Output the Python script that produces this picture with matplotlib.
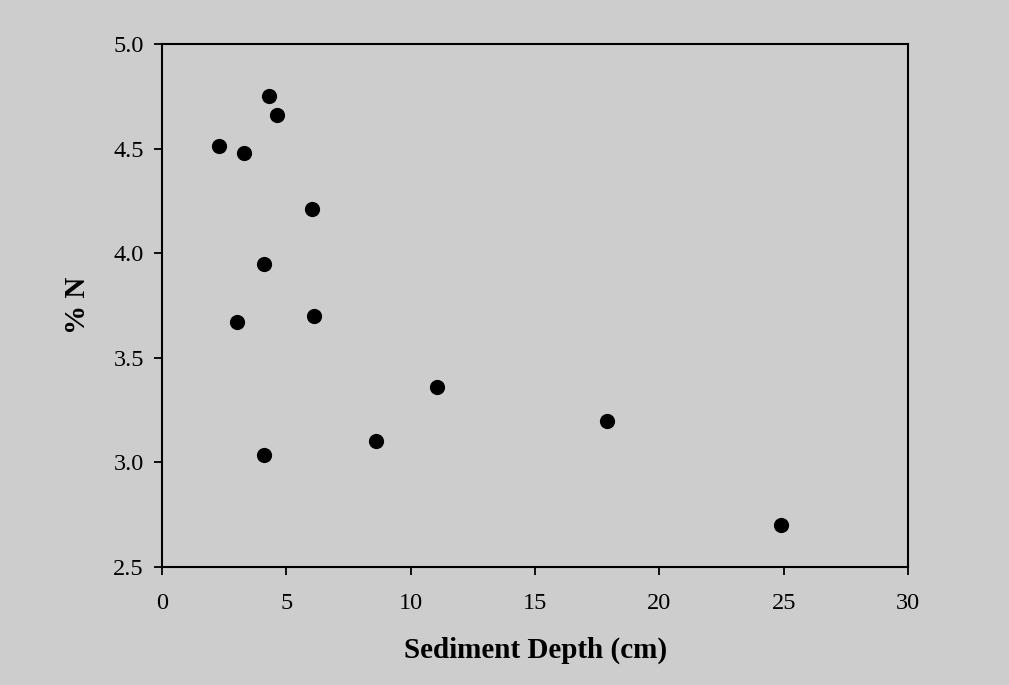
import matplotlib
matplotlib.use("Agg")
import matplotlib.pyplot as plt

depth_cm = [4.32, 4.63, 2.31, 3.29, 6.05, 4.09, 3.00, 6.12, 11.07, 8.60, 4.09, 17.90, 24.87]
percent_n = [4.75, 4.66, 4.51, 4.48, 4.21, 3.95, 3.67, 3.70, 3.36, 3.10, 3.035, 3.20, 2.70]

x_ticks = [0, 5, 10, 15, 20, 25, 30]
y_ticks = [2.5, 3.0, 3.5, 4.0, 4.5, 5.0]
y_tick_labels = ["2.5", "3.0", "3.5", "4.0", "4.5", "5.0"]

plt.rcParams['font.family'] = ['Liberation Serif', 'DejaVu Serif']

bg = '#cdcdcd'
fig = plt.figure(figsize=(10.09, 6.85), dpi=100, facecolor=bg)
ax = fig.add_axes([0.1606, 0.1723, 0.7394, 0.7635])
ax.set_facecolor(bg)

ax.scatter(depth_cm, percent_n, s=120, color='black', zorder=3, linewidths=0)

ax.set_xlim(0, 30)
ax.set_ylim(2.5, 5.0)
ax.set_xticks(x_ticks)
ax.set_yticks(y_ticks)
ax.set_yticklabels(y_tick_labels)

for sp in ax.spines.values():
    sp.set_linewidth(1.5)
    sp.set_color('black')

ax.tick_params(axis='both', direction='out', length=6, width=1.3,
               labelsize=17.5, colors='black', top=False, right=False)
ax.tick_params(axis='x', pad=13)
ax.tick_params(axis='y', pad=7)

ax.set_xlabel('Sediment Depth (cm)', fontsize=21, fontweight='bold', labelpad=16)
ax.set_ylabel('% N', fontsize=21, fontweight='bold', labelpad=16)

fig.savefig('out.png', dpi=100, facecolor=bg)
